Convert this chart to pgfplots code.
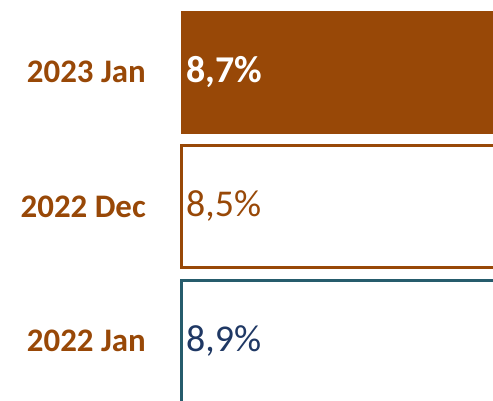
\documentclass[border=0pt]{standalone}
\usepackage{pgfplots}
\pgfplotsset{compat=1.18}
\usepackage{fontspec}
\setmainfont{Carlito}
\definecolor{rust}{RGB}{152,72,7}
\definecolor{tealdark}{RGB}{38,92,108}
\definecolor{navy}{RGB}{31,56,100}
\begin{document}
\begin{tikzpicture}
\useasboundingbox (0,0) rectangle (493bp,401bp);
\begin{axis}[
    at={(178bp,0)}, anchor=south west,
    scale only axis,
    width=315bp, height=401bp,
    xmin=-0.05, xmax=5.2,
    ymin=-0.446, ymax=2.535,
    axis line style={draw=none},
    xtick=\empty,
    ytick={0,1,2},
    yticklabels={2022 Jan,2022 Dec,2023 Jan},
    major tick length=0pt,
    yticklabel style={anchor=east, inner sep=0pt, xshift=-32bp,
        text=rust, font=\fontsize{33}{36}\selectfont\bfseries},
    nodes near coords style={anchor=west, inner sep=0pt, xshift=5bp},
]
% bars (cut off at the right edge)
\addplot[xbar, bar width=122bp, bar shift=0pt, draw=rust, fill=rust]
    coordinates {(8.7,2)};
\addplot[xbar, bar width=122bp, bar shift=0pt, draw=rust, fill=white, line width=3bp]
    coordinates {(8.5,1)};
\addplot[xbar, bar width=122bp, bar shift=0pt, draw=tealdark, fill=white, line width=3bp]
    coordinates {(8.9,0)};
% value labels at the start of each bar
\addplot[draw=none, mark=none, nodes near coords={\textbf{8,7\%}},
    nodes near coords style={text=white, font=\fontsize{38}{41}\selectfont}]
    coordinates {(0,2)};
\addplot[draw=none, mark=none, nodes near coords={8,5\%},
    nodes near coords style={text=rust, font=\fontsize{38}{41}\selectfont}]
    coordinates {(0,1)};
\addplot[draw=none, mark=none, nodes near coords={8,9\%},
    nodes near coords style={text=navy, font=\fontsize{38}{41}\selectfont}]
    coordinates {(0,0)};
\end{axis}
\end{tikzpicture}
\end{document}
